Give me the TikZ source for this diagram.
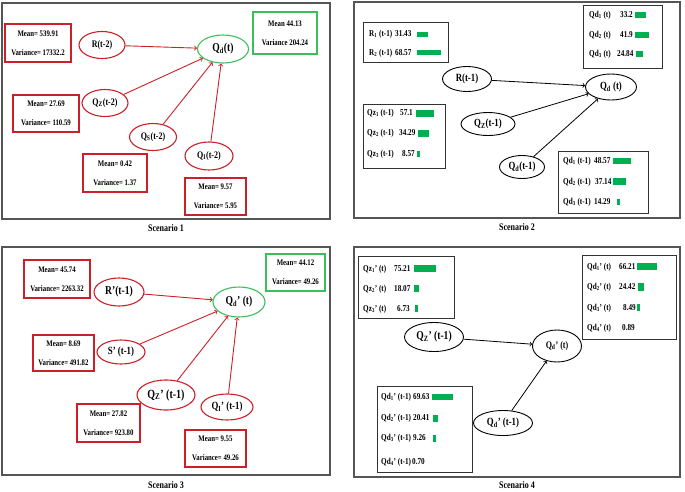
\documentclass[tikz,border=0pt]{standalone}
\usepackage{fontspec}
\setmainfont{Liberation Serif}[FakeStretch=0.8]
\usepackage{xcolor}
\usetikzlibrary{arrows}
\usetikzlibrary{shapes.geometric}
\usetikzlibrary{positioning}

\definecolor{boxred}{RGB}{204,32,40}
\definecolor{boxgreen}{RGB}{60,190,90}
\definecolor{bargreen}{RGB}{0,176,80}
\definecolor{framegray}{RGB}{85,85,85}

\begin{document}
\begin{tikzpicture}[x=1pt,y=-1pt,>=to,font=\bfseries,
    framebox/.style={draw=framegray,line width=1.4pt,inner sep=0pt},
    statbox/.style={draw=boxred,line width=1.1pt,inner sep=0pt,align=center,
                    font=\fontsize{8.5}{19}\selectfont\bfseries},
    statgreen/.style={statbox,draw=boxgreen},
    varnode/.style={ellipse,draw=boxred,line width=1.1pt,inner sep=0pt,
                    font=\fontsize{11}{12}\selectfont\bfseries},
    vargreen/.style={varnode,draw=boxgreen},
    varblack/.style={varnode,draw=black,line width=0.9pt},
    redarrow/.style={->,draw=boxred,line width=0.9pt},
    blackarrow/.style={->,draw=black,line width=0.8pt},
    tablebox/.style={draw=black!80,line width=1pt,inner sep=0pt},
    rowtext/.style={anchor=west,inner sep=0pt,font=\fontsize{9}{10}\selectfont\bfseries},
    barfill/.style={fill=bargreen},
    capt/.style={inner sep=0pt,font=\fontsize{10}{11}\selectfont\bfseries}]
\useasboundingbox (0,0) rectangle (685,491);

% Scenario 1
\node[framebox,minimum width=328,minimum height=216] (f1) at (166,111) {};
\node[capt,below=5pt of f1] (c1) {Scenario 1};
\node[statbox,minimum width=66,minimum height=38] (m1) at (38,43) {Mean= 539.91\\Variance= 17332.2};
\node[statgreen,minimum width=64,minimum height=42] (g1) at (285,33) {Mean 44.13\\Variance 204.24};
\node[statbox,minimum width=66,minimum height=37] (m2) at (46,113.5) {Mean= 27.69\\Variance= 110.59};
\node[statbox,minimum width=64,minimum height=38] (m3) at (115,173) {Mean= 0.42\\Variance= 1.37};
\node[statbox,minimum width=61,minimum height=37] (m4) at (215.5,196.5) {Mean= 9.57\\Variance= 5.95};
\node[varnode,minimum width=46,minimum height=27,font=\fontsize{10}{11}\selectfont\bfseries] (r1) at (102,45) {R(t-2)};
\node[vargreen,minimum width=51,minimum height=28,font=\fontsize{12}{13}\selectfont\bfseries] (qd1) at (223,49) {Q\textsubscript{d}(t)};
\node[varnode,minimum width=46,minimum height=27,font=\fontsize{10}{11}\selectfont\bfseries] (qz1) at (105,103) {Q\textsubscript{Z}(t-2)};
\node[varnode,minimum width=47,minimum height=27,font=\fontsize{10}{11}\selectfont\bfseries] (qs1) at (153,137) {Q\textsubscript{S}(t-2)};
\node[varnode,minimum width=48,minimum height=28,font=\fontsize{10}{11}\selectfont\bfseries] (qi1) at (209,156) {Q\textsubscript{I}(t-2)};

\path[redarrow]
  (r1) edge (qd1)
  (qz1) edge (qd1)
  (qs1) edge (qd1)
  (qi1) edge (qd1);

% Scenario 2
\node[framebox,minimum width=326,minimum height=216] (f2) at (517,110) {};
\node[capt,below=5pt of f2] (c2) {Scenario 2};
\node[tablebox,minimum width=85,minimum height=40] (rt2) at (405.5,42) {};
\node[rowtext] (r2a) at (369,34) {R\textsubscript{1} (t-1)};
\node[rowtext] (r2av) at (395,34) {31.43};
\node[rowtext] (r2b) at (369,53) {R\textsubscript{2} (t-1)};
\node[rowtext] (r2bv) at (395,53) {68.57};
\fill[barfill] (417,32) rectangle (428,37);
\fill[barfill] (417,50) rectangle (441,55);

\node[tablebox,minimum width=79,minimum height=63] (qdt2) at (622.5,36.5) {};
\node[rowtext] (qd2a) at (589,15) {Qd\textsubscript{1} (t)};
\node[rowtext] (qd2av) at (620,15) {33.2};
\node[rowtext] (qd2b) at (589,35) {Qd\textsubscript{2} (t)};
\node[rowtext] (qd2bv) at (620,35) {41.9};
\node[rowtext] (qd2c) at (589,54) {Qd\textsubscript{3} (t)};
\node[rowtext] (qd2cv) at (617,54) {24.84};
\fill[barfill] (635,12) rectangle (646,18);
\fill[barfill] (635,32) rectangle (649,38);
\fill[barfill] (636,51) rectangle (643,57);

\node[tablebox,minimum width=82,minimum height=64] (qzt2) at (404,136) {};
\node[rowtext] (qz2a) at (367,113) {Qz\textsubscript{1} (t-1)};
\node[rowtext] (qz2av) at (400,113) {57.1};
\node[rowtext] (qz2b) at (367,133) {Qz\textsubscript{2} (t-1)};
\node[rowtext] (qz2bv) at (399,133) {34.29};
\node[rowtext] (qz2c) at (367,154) {Qz\textsubscript{3} (t-1)};
\node[rowtext] (qz2cv) at (402,154) {8.57};
\fill[barfill] (416,110) rectangle (434,117);
\fill[barfill] (418,130) rectangle (429,137);
\fill[barfill] (417,151) rectangle (419.5,157);

\node[tablebox,minimum width=90,minimum height=62] (qlt2) at (603,182) {};
\node[rowtext] (ql2a) at (563,161) {Qd\textsubscript{1} (t-1)};
\node[rowtext] (ql2av) at (594,161) {48.57};
\node[rowtext] (ql2b) at (563,182) {Qd\textsubscript{2} (t-1)};
\node[rowtext] (ql2bv) at (595,182) {37.14};
\node[rowtext] (ql2c) at (563,202) {Qd\textsubscript{3} (t-1)};
\node[rowtext] (ql2cv) at (594,202) {14.29};
\fill[barfill] (613,158) rectangle (631,164);
\fill[barfill] (613,178) rectangle (626,185);
\fill[barfill] (617,199) rectangle (620,205);

\node[varblack,minimum width=49,minimum height=25] (r2) at (467,79) {R(t-1)};
\node[varblack,minimum width=51,minimum height=26] (qd2) at (611,87) {Q\textsubscript{d} (t)};
\node[varblack,minimum width=54,minimum height=23] (qz2) at (488,124) {Q\textsubscript{Z}(t-1)};
\node[varblack,minimum width=45,minimum height=23] (ql2) at (522,167) {Q\textsubscript{d}(t-1)};

\path[blackarrow]
  (r2) edge (qd2)
  (qz2) edge (qd2)
  (ql2) edge (qd2);

% Scenario 3
\node[framebox,minimum width=328,minimum height=228] (f3) at (166,361) {};
\node[capt,below=6pt of f3] (c3) {Scenario 3};
\node[statbox,minimum width=66,minimum height=38] (m5) at (57,279) {Mean= 45.74\\Variance= 2263.32};
\node[statgreen,minimum width=59,minimum height=37] (g3) at (295.5,272.5) {Mean= 44.12\\Variance= 49.26};
\node[statbox,minimum width=61,minimum height=36] (m6) at (63.5,353) {Mean= 8.69\\Variance= 491.82};
\node[statbox,minimum width=63,minimum height=38] (m7) at (108.5,423) {Mean= 27.82\\Variance= 923.80};
\node[statbox,minimum width=61,minimum height=37] (m8) at (215.5,448.5) {Mean= 9.55\\Variance= 49.26};
\node[varnode,minimum width=50,minimum height=28,font=\fontsize{12}{13}\selectfont\bfseries] (r3) at (119,292) {R'(t-1)};
\node[vargreen,minimum width=52,minimum height=30,font=\fontsize{12}{13}\selectfont\bfseries] (qd3) at (239,302) {Q\textsubscript{d}' (t)};
\node[varnode,minimum width=48,minimum height=24] (s3) at (121,352) {S' (t-1)};
\node[varnode,minimum width=58,minimum height=30,font=\fontsize{12.5}{13}\selectfont\bfseries] (qz3) at (166,395) {Q\textsubscript{Z}' (t-1)};
\node[varnode,minimum width=52,minimum height=26] (qi3) at (227,407) {Q\textsubscript{I}' (t-1)};

\path[redarrow]
  (r3) edge (qd3)
  (s3) edge (qd3)
  (qz3) edge (qd3)
  (qi3) edge (qd3);

% Scenario 4
\node[framebox,minimum width=326,minimum height=230] (f4) at (517,362) {};
\node[capt,below=4pt of f4] (c4) {Scenario 4};
\node[tablebox,minimum width=96,minimum height=62] (qzt4) at (406,287) {};
\node[rowtext] (qz4a) at (363,269) {Qz\textsubscript{1}' (t)};
\node[rowtext] (qz4av) at (394,269) {75.21};
\node[rowtext] (qz4b) at (363,289) {Qz\textsubscript{2}' (t)};
\node[rowtext] (qz4bv) at (394,289) {18.07};
\node[rowtext] (qz4c) at (363,309) {Qz\textsubscript{3}' (t)};
\node[rowtext] (qz4cv) at (397,309) {6.73};
\fill[barfill] (414,265) rectangle (436,272);
\fill[barfill] (414,285) rectangle (419,292);
\fill[barfill] (415,305) rectangle (417.5,312);

\node[tablebox,minimum width=94,minimum height=84] (qdt4) at (629,297) {};
\node[rowtext] (qd4a) at (587,267) {Qd\textsubscript{1}' (t)};
\node[rowtext] (qd4av) at (619,267) {66.21};
\node[rowtext] (qd4b) at (587,287) {Qd\textsubscript{2}' (t)};
\node[rowtext] (qd4bv) at (619,287) {24.42};
\node[rowtext] (qd4c) at (587,308) {Qd\textsubscript{3}' (t)};
\node[rowtext] (qd4cv) at (623,308) {8.49};
\node[rowtext] (qd4d) at (587,328) {Qd\textsubscript{4}' (t)};
\node[rowtext] (qd4dv) at (622,328) {0.89};
\fill[barfill] (637,263) rectangle (657,270);
\fill[barfill] (638,283) rectangle (644,291);
\fill[barfill] (637,304) rectangle (640,311);

\node[tablebox,minimum width=95,minimum height=86] (qlt4) at (424.5,429) {};
\node[rowtext] (ql4a) at (381,397) {Qd\textsubscript{1}' (t-1)};
\node[rowtext] (ql4av) at (413,397) {69.63};
\node[rowtext] (ql4b) at (381,418) {Qd\textsubscript{2}' (t-1)};
\node[rowtext] (ql4bv) at (413,418) {20.41};
\node[rowtext] (ql4c) at (381,438) {Qd\textsubscript{3}' (t-1)};
\node[rowtext] (ql4cv) at (413,438) {9.26};
\node[rowtext] (ql4d) at (381,462) {Qd\textsubscript{4}' (t-1)};
\node[rowtext] (ql4dv) at (412,462) {0.70};
\fill[barfill] (432,394) rectangle (453,400);
\fill[barfill] (433,415) rectangle (438,422);
\fill[barfill] (433,435) rectangle (436,442);

\node[varblack,minimum width=59,minimum height=29,font=\fontsize{12}{13}\selectfont\bfseries] (qz4) at (434,337) {Q\textsubscript{Z}' (t-1)};
\node[varblack,minimum width=49,minimum height=32,font=\fontsize{10}{11}\selectfont\bfseries] (qd4) at (557,346) {Q\textsubscript{d}' (t)};
\node[varblack,minimum width=59,minimum height=25] (ql4) at (503,423) {Q\textsubscript{d}' (t-1)};

\path[blackarrow]
  (qz4) edge (qd4)
  (ql4) edge (qd4);

\end{tikzpicture}
\end{document}
